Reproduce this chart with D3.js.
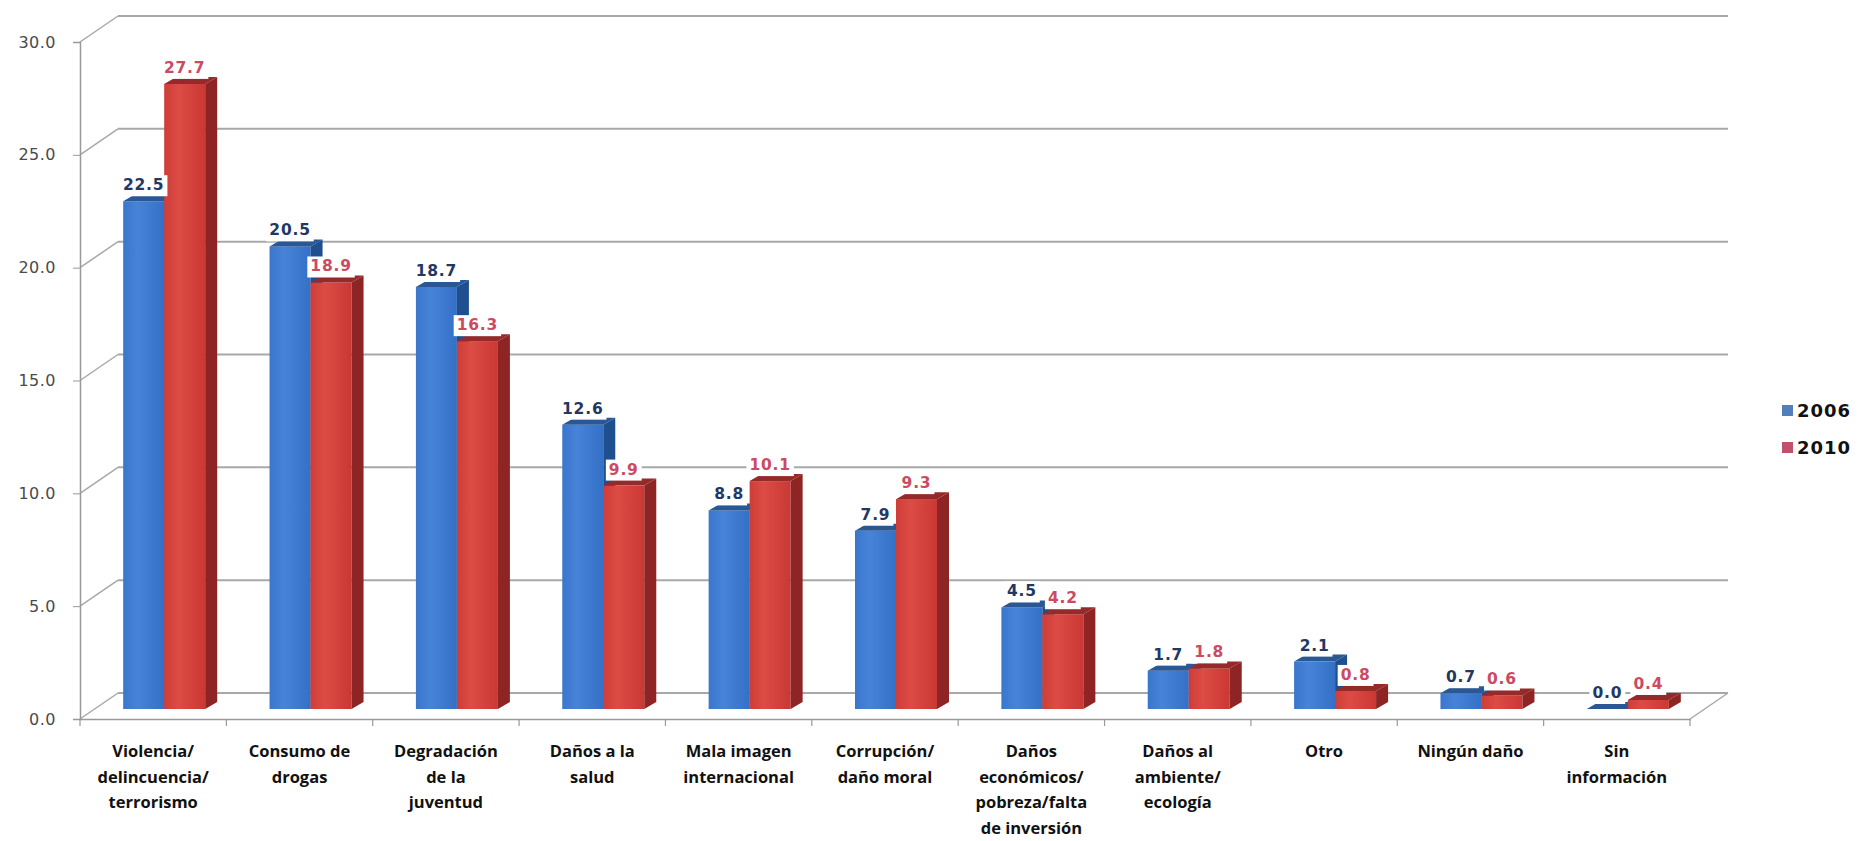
<!DOCTYPE html>
<html>
<head>
<meta charset="utf-8">
<script src="https://cdn.jsdelivr.net/npm/d3@7"></script>
<style>
  html, body { margin: 0; padding: 0; background: #ffffff; }
  svg { display: block; }
</style>
</head>
<body>
<svg id="chart" width="1860" height="841"></svg>
<script>
// ---------- DATA ----------
const categories = [
  "Violencia/\ndelincuencia/\nterrorismo",
  "Consumo de\ndrogas",
  "Degradación\nde la\njuventud",
  "Daños a la\nsalud",
  "Mala imagen\ninternacional",
  "Corrupción/\ndaño moral",
  "Daños\neconómicos/\npobreza/falta\nde inversión",
  "Daños al\nambiente/\necología",
  "Otro",
  "Ningún daño",
  "Sin\ninformación"
];
const values2006 = [22.5, 20.5, 18.7, 12.6, 8.8, 7.9, 4.5, 1.7, 2.1, 0.7, 0.0];
const values2010 = [27.7, 18.9, 16.3, 9.9, 10.1, 9.3, 4.2, 1.8, 0.8, 0.6, 0.4];
const seriesNames = ["2006", "2010"];
const yTicks = [0, 5, 10, 15, 20, 25, 30];

// ---------- LAYOUT ----------
const svg = d3.select("#chart");
const plotLeft = 80, plotRight = 1690, plotBottom = 719, plotTop = 42;
const DX = 38, DY = -26;          // back wall depth offset
const barDX = 11, barDY = -10;    // bars sit part-way into the depth
const sideDX = 12, sideDY = -7;   // bar thickness
const barW = 41;

const x = d3.scaleBand().domain(categories).range([plotLeft, plotRight]).padding(0);
const y = d3.scaleLinear().domain([0, 30]).range([plotBottom, plotTop]);

const series = [
  { name: seriesNames[0], values: values2006, front: "url(#gBlue)", side: "#1f4f8f", top: "#2a5894", label: "#1f3864", legend: "#4f7fbc" },
  { name: seriesNames[1], values: values2010, front: "url(#gRed)", side: "#8e2424", top: "#952a2a", label: "#cc4a62", legend: "#c0506c" }
];

// gradients
const defs = svg.append("defs");
const gb = defs.append("linearGradient").attr("id", "gBlue").attr("x1", "0").attr("x2", "1").attr("y1", "0").attr("y2", "0");
gb.append("stop").attr("offset", "0").attr("stop-color", "#3a76cc");
gb.append("stop").attr("offset", "0.35").attr("stop-color", "#4784d8");
gb.append("stop").attr("offset", "1").attr("stop-color", "#3470c6");
const gr = defs.append("linearGradient").attr("id", "gRed").attr("x1", "0").attr("x2", "1").attr("y1", "0").attr("y2", "0");
gr.append("stop").attr("offset", "0").attr("stop-color", "#cf3d38");
gr.append("stop").attr("offset", "0.35").attr("stop-color", "#dd4b45");
gr.append("stop").attr("offset", "1").attr("stop-color", "#c93833");

const gridColor = "#a8a8a8";

// back wall gridlines
const grid = svg.append("g");
yTicks.forEach(v => {
  grid.append("line")
    .attr("x1", plotLeft + DX).attr("x2", plotRight + DX)
    .attr("y1", y(v) + DY).attr("y2", y(v) + DY)
    .attr("stroke", gridColor).attr("stroke-width", 2);
  grid.append("line")
    .attr("x1", plotLeft).attr("x2", plotLeft + DX)
    .attr("y1", y(v)).attr("y2", y(v) + DY)
    .attr("stroke", gridColor).attr("stroke-width", 1.5);
});
// floor right edge
grid.append("line")
  .attr("x1", plotRight).attr("x2", plotRight + DX)
  .attr("y1", y(0)).attr("y2", y(0) + DY)
  .attr("stroke", gridColor).attr("stroke-width", 1.5);

// y axis
const yAxisG = svg.append("g").attr("transform", `translate(${plotLeft},0)`)
  .call(d3.axisLeft(y).tickValues(yTicks).tickFormat(d3.format(".1f")).tickSize(7).tickPadding(17));
yAxisG.select(".domain").attr("stroke", "#999").attr("stroke-width", 1.5);
yAxisG.selectAll(".tick line").attr("stroke", "#999");
yAxisG.selectAll(".tick text")
  .attr("font-family", "'DejaVu Sans', sans-serif").attr("font-size", 16)
  .attr("fill", "#4a4a4a").attr("letter-spacing", 0.5);

// x axis
const xAxisG = svg.append("g").attr("transform", `translate(0,${plotBottom})`)
  .call(d3.axisBottom(x).tickSize(0).tickFormat(""));
xAxisG.select(".domain").attr("stroke", "#999").attr("stroke-width", 1.5);
// category boundary ticks
const bounds = categories.map(c => x(c)).concat([x(categories[categories.length - 1]) + x.bandwidth()]);
xAxisG.selectAll(".bound").data(bounds).enter().append("line")
  .attr("x1", d => d).attr("x2", d => d).attr("y1", 0).attr("y2", 7)
  .attr("stroke", "#999").attr("stroke-width", 1.2);

// category labels
const labels = svg.append("g");
categories.forEach(c => {
  const lines = c.split("\n");
  const t = labels.append("text")
    .attr("x", x(c) + x.bandwidth() / 2)
    .attr("y", 757)
    .attr("text-anchor", "middle")
    .attr("font-family", "'Open Sans', sans-serif")
    .attr("font-weight", 700).attr("font-size", 16.5).attr("fill", "#111");
  lines.forEach((ln, i) => {
    t.append("tspan").attr("x", x(c) + x.bandwidth() / 2).attr("dy", i === 0 ? 0 : 25.5).text(ln);
  });
});

// bars
const barsG = svg.append("g");
categories.forEach((c, ci) => {
  const gc = x(c) + x.bandwidth() / 2 + barDX;
  series.forEach((s, si) => {
    const v = s.values[ci];
    const x0 = gc - barW + si * barW, x1 = x0 + barW;
    const yb = y(0) + barDY, yt = y(v) + barDY;
    barsG.append("rect").attr("x", x0).attr("y", yt).attr("width", barW).attr("height", Math.max(0, yb - yt))
      .attr("fill", s.front);
    barsG.append("path")
      .attr("d", `M${x1},${yb} L${x1},${yt} L${x1 + sideDX},${yt + sideDY} L${x1 + sideDX},${yb + sideDY} Z`)
      .attr("fill", s.side);
    barsG.append("path")
      .attr("d", `M${x0},${yt} L${x1},${yt} L${x1 + sideDX},${yt + sideDY} L${x0 + sideDX},${yt + sideDY} Z`)
      .attr("fill", s.top);
  });
});

// value labels with white background
const valG = svg.append("g");
categories.forEach((c, ci) => {
  const gc = x(c) + x.bandwidth() / 2 + barDX;
  series.forEach((s, si) => {
    const v = s.values[ci];
    const cx = gc - barW / 2 + si * barW;
    const yt = y(v) + barDY;
    const g = valG.append("g");
    const t = g.append("text")
      .attr("x", cx).attr("y", yt - 11)
      .attr("text-anchor", "middle")
      .attr("font-family", "'DejaVu Sans', sans-serif")
      .attr("font-weight", 700).attr("font-size", 15.5)
      .attr("letter-spacing", 0.8)
      .attr("fill", s.label)
      .text(d3.format(".1f")(v));
    const bb = t.node().getBBox();
    g.insert("rect", "text")
      .attr("x", bb.x - 3).attr("y", bb.y - 1).attr("width", bb.width + 6).attr("height", bb.height + 3)
      .attr("fill", "#fff");
  });
});

// legend
const leg = svg.append("g");
series.forEach((s, i) => {
  const ly = 410 + i * 37;
  leg.append("rect").attr("x", 1782).attr("y", ly - 5).attr("width", 11).attr("height", 11).attr("fill", s.legend);
  leg.append("text").attr("x", 1797).attr("y", ly + 7)
    .attr("font-family", "'DejaVu Sans', sans-serif").attr("font-weight", 700).attr("font-size", 18)
    .attr("letter-spacing", 1).attr("fill", "#111").text(s.name);
});
</script>
</body>
</html>
